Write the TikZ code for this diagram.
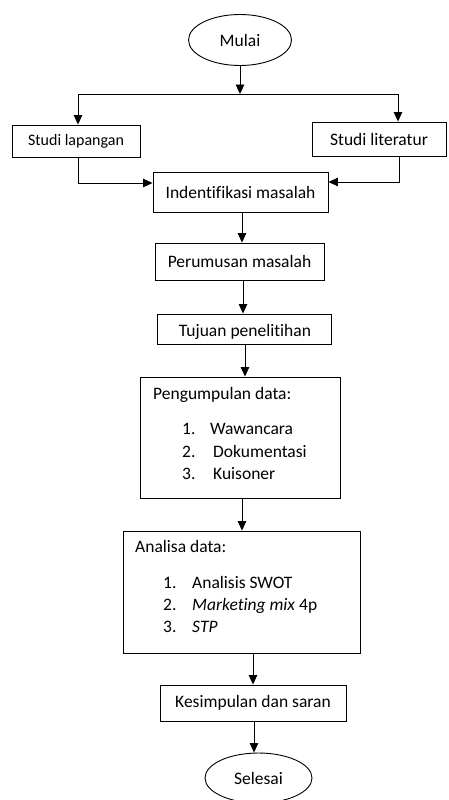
\documentclass[tikz,border=0pt]{standalone}
\usepackage{fontspec}
\setmainfont[Ligatures=NoCommon]{Carlito}
\usetikzlibrary{arrows.meta,shapes.geometric}
\begin{document}
\begin{tikzpicture}[x=1pt,y=-1pt,
  font=\fontsize{17.5}{21}\selectfont,
  box/.style={draw,line width=0.9pt,rectangle,inner sep=0pt},
  oval/.style={draw,line width=0.9pt,ellipse,inner sep=0pt},
  arr/.style={line width=0.9pt,-{Triangle[length=9.5pt,width=8.5pt]}},
  ln/.style={line width=0.9pt},
  txt/.style={inner sep=0pt,anchor=mid west}]
\useasboundingbox[fill=white] (0,0) rectangle (448,800);
\begin{scope}
\clip (0,0) rectangle (448,800);
\node[oval,minimum width=103pt,minimum height=51pt] (mulai) at (240,40) {Mulai};
\node[box,minimum width=128pt,minimum height=32pt,font=\fontsize{16}{19}\selectfont] (lap) at (76,141) {Studi lapangan};
\node[box,minimum width=134pt,minimum height=34pt] (lit) at (379,139) {Studi literatur};
\node[box,minimum width=175pt,minimum height=40pt] (ident) at (240.5,192) {Indentifikasi masalah};
\node[box,minimum width=169pt,minimum height=37pt] (perum) at (239.5,261.5) {Perumusan masalah};
\node[box,minimum width=174pt,minimum height=30pt] (tujuan) at (244,329) {};
\node[inner sep=0pt] (tujuant) at (245,332) {Tujuan penelitihan};
\node[box,minimum width=200pt,minimum height=121pt] (peng) at (240,437.5) {};
\node[box,minimum width=237pt,minimum height=122pt] (anal) at (241.5,592) {};
\node[box,minimum width=186pt,minimum height=36pt] (kes) at (253,703) {Kesimpulan dan saran};
\node[oval,minimum width=107pt,minimum height=50pt] (sel) at (258.5,778) {Selesai};

\node[txt] (p0) at (153,397) {Pengumpulan data:};
\node[txt] (p1n) at (182,432) {1.};
\node[txt] (p1) at (210,432) {Wawancara};
\node[txt] (p2n) at (182,455) {2.};
\node[txt] (p2) at (213,455) {Dokumentasi};
\node[txt] (p3n) at (182,477) {3.};
\node[txt] (p3) at (213,477) {Kuisoner};

\node[txt] (a0) at (135,550) {Analisa data:};
\node[txt] (a1n) at (163,586) {1.};
\node[txt] (a1) at (192,586) {Analisis SWOT};
\node[txt] (a2n) at (163,608) {2.};
\node[txt] (a2) at (192,608) {\textit{Marketing mix} 4p};
\node[txt] (a3n) at (163,630) {3.};
\node[txt] (a3) at (192,630) {\textit{STP}};

\coordinate (j) at (240,94);
\coordinate (jl) at (78,94);
\coordinate (jr) at (398,94);
\coordinate (lb) at (78,183);
\coordinate (rb) at (399,182);

\draw[arr] (mulai.south) -- (j);
\draw[ln] (jl) -- (jr);
\draw[arr] (jl) -- (jl |- lap.north);
\draw[arr] (jr) -- (jr |- lit.north);
\draw[arr] (lb |- lap.south) -- (lb) -- (lb -| ident.west);
\draw[arr] (rb |- lit.south) -- (rb) -- (rb -| ident.east);
\draw[arr] ([xshift=1.5pt]ident.south) -- ([xshift=1.5pt]ident.south |- perum.north);
\draw[arr] ([xshift=3.5pt]perum.south) -- ([xshift=3.5pt]perum.south |- tujuan.north);
\draw[arr] ([xshift=1pt]tujuan.south) -- ([xshift=1pt]tujuan.south |- peng.north);
\draw[arr] ([xshift=2pt]peng.south) -- ([xshift=2pt]peng.south |- anal.north);
\draw[arr] ([xshift=11.5pt]anal.south) -- ([xshift=11.5pt]anal.south |- kes.north);
\draw[arr] ([xshift=1pt]kes.south) -- ([xshift=1pt]kes.south |- sel.north);
\end{scope}
\end{tikzpicture}
\end{document}
